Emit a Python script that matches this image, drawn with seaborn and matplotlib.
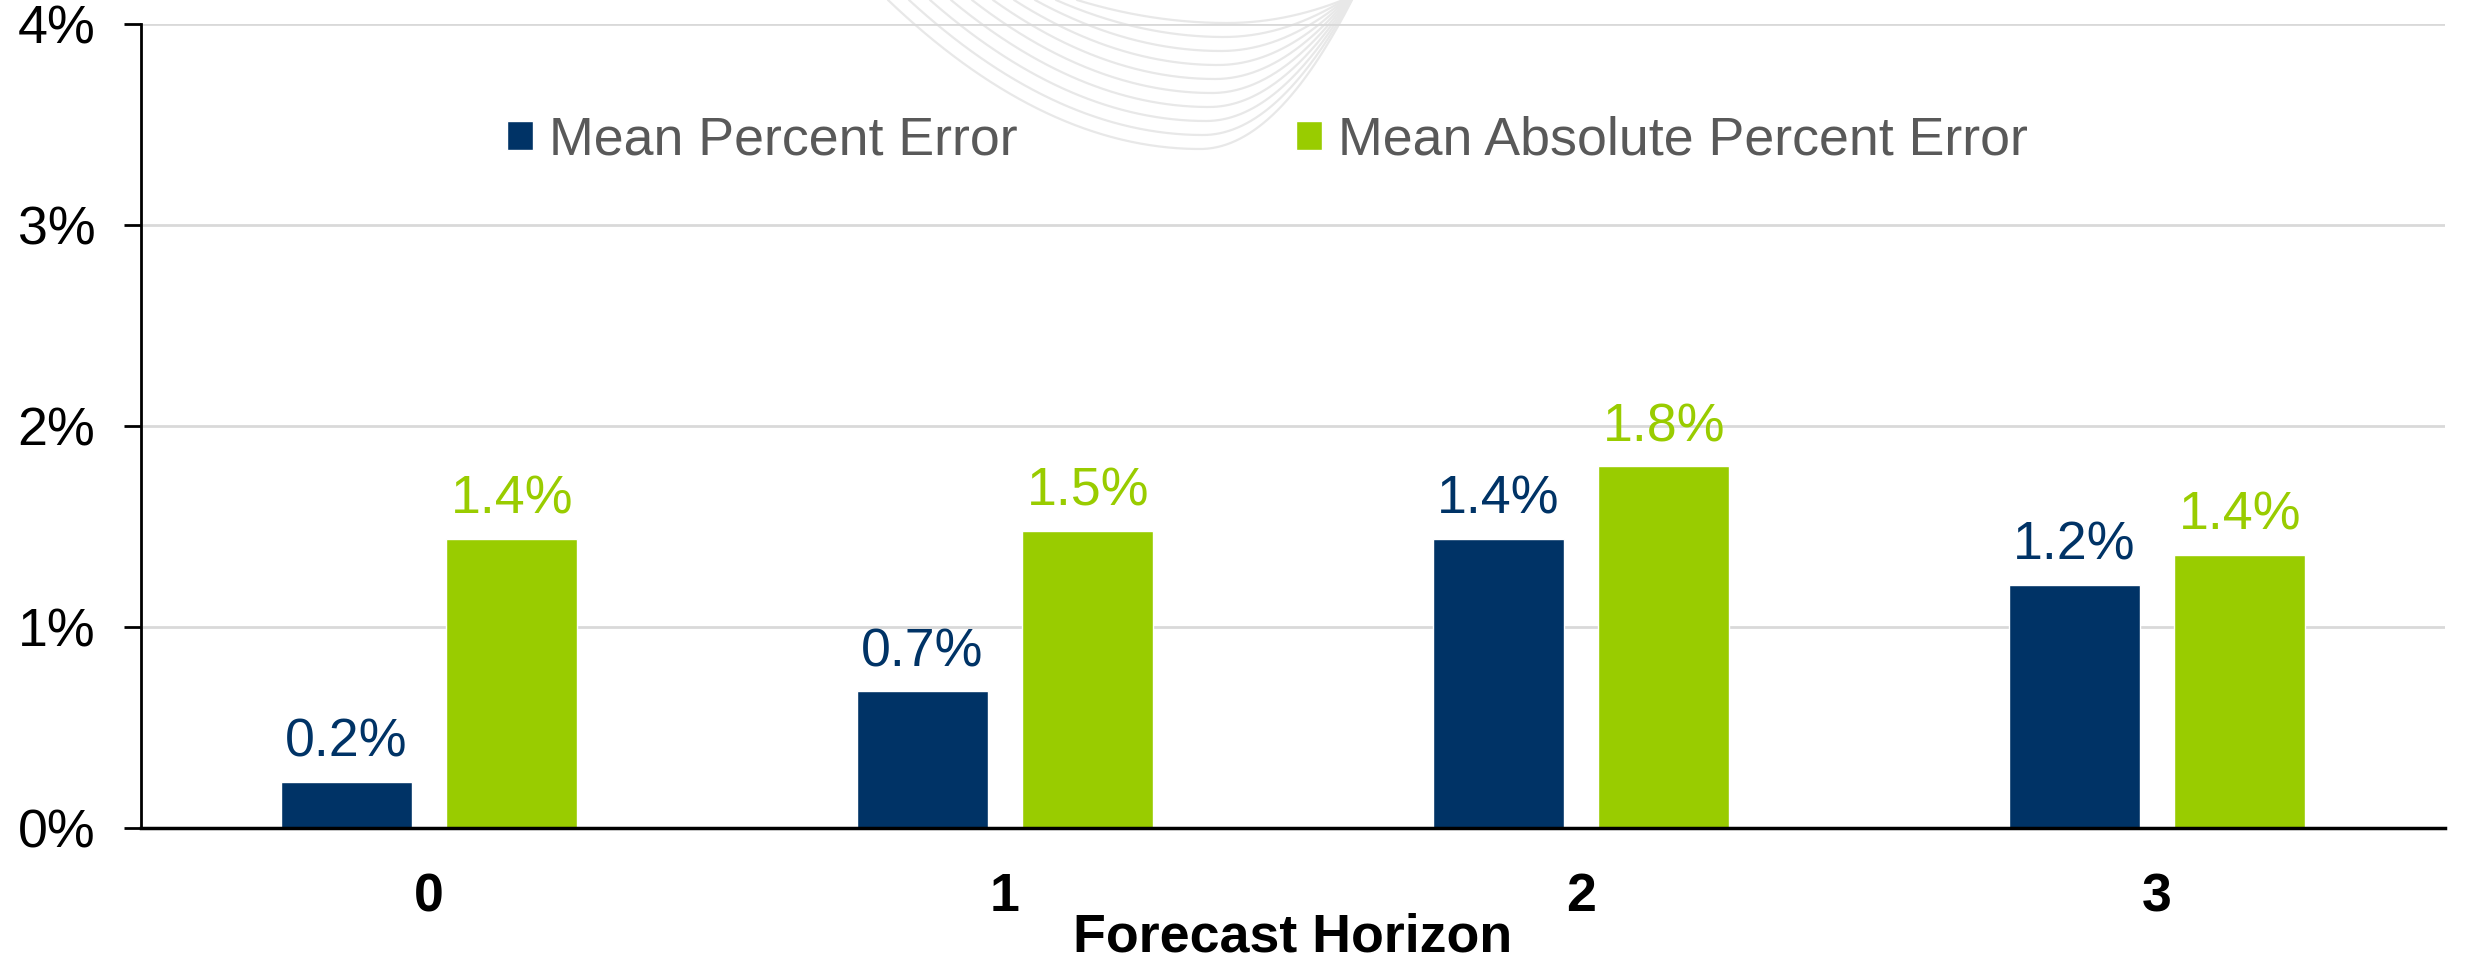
import numpy as np
import pandas as pd
import matplotlib
matplotlib.use('Agg')
import matplotlib.pyplot as plt
import seaborn as sns
from matplotlib.ticker import FuncFormatter

# --- data ---
horizons = ['0', '1', '2', '3']
series_names = ['Mean Percent Error', 'Mean Absolute Percent Error']
mpe = [0.23, 0.68, 1.44, 1.21]
mape = [1.44, 1.48, 1.80, 1.36]
y_ticks = [0, 1, 2, 3, 4]
colors = ['#003366', '#99CC00']

df = pd.DataFrame({
    'horizon': horizons * 2,
    'series': [series_names[0]] * len(mpe) + [series_names[1]] * len(mape),
    'value': mpe + mape,
})

sns.set_style('white')
plt.rcParams['font.family'] = ['Liberation Sans', 'DejaVu Sans']
FS = 38.7

W, H = 2465, 963
fig = plt.figure(figsize=(W / 100, H / 100), dpi=100)

# faint logo watermark behind the chart
bg = fig.add_axes([0, 0, 1, 1], zorder=-1)
bg.set_xlim(0, W)
bg.set_ylim(H, 0)
bg.axis('off')
for k in range(10):
    depth = 149 - 14 * k
    xc = 1200 + 3 * k
    rx_l = 312 - 18 * k
    rx_r = 152 - 4 * k
    xs = np.linspace(xc - rx_l, xc + rx_r, 200)
    t = np.where(xs < xc, (xs - xc) / rx_l, (xs - xc) / rx_r)
    bg.plot(xs, depth * (1 - t ** 2), color='#E8E8E8', lw=1.6)

ax = fig.add_axes([141 / W, 1 - 828 / H, (2445 - 141) / W, (828 - 24) / H])
ax.patch.set_alpha(0)

sns.barplot(data=df, x='horizon', y='value', hue='series', palette=colors,
            width=0.576, gap=0.21, saturation=1, errorbar=None, ax=ax)

for cont, c in zip(ax.containers, colors):
    ax.bar_label(cont, labels=[f'{v:.1f}%' for v in cont.datavalues],
                 padding=10, color=c, fontsize=FS)

ax.set_ylim(0, 4)
ax.set_yticks(y_ticks)
ax.yaxis.set_major_formatter(FuncFormatter(lambda v, p: f'{int(v)}%'))
ax.yaxis.grid(True, color='#D9D9D9', lw=2)
ax.set_axisbelow(True)

ax.set_xlim(-0.5, 3.5)
ax.set_xticks(np.arange(-0.5, 4, 1), minor=True)
ax.tick_params(axis='x', which='major', length=0, pad=32, labelsize=FS, labelcolor='black')
ax.tick_params(axis='x', which='minor', length=13, width=1.5, color='black', direction='out')
ax.tick_params(axis='y', length=12, width=2, pad=21, labelsize=FS, color='black',
               labelcolor='black', left=True)
for lab in ax.get_xticklabels():
    lab.set_fontweight('bold')

sns.despine(ax=ax)
ax.spines['left'].set_color('black')
ax.spines['left'].set_linewidth(2)
ax.spines['bottom'].set_color('black')
ax.spines['bottom'].set_linewidth(2.5)

ax.set_xlabel('Forecast Horizon', fontsize=FS, fontweight='bold', labelpad=-7, color='black')
ax.set_ylabel('')

handles, labels = ax.get_legend_handles_labels()
ax.legend(handles, labels, ncol=2, loc='center left', bbox_to_anchor=(0.159, 0.855),
          frameon=False, fontsize=FS, handlelength=0.48, handleheight=0.48,
          handletextpad=0.3, columnspacing=5.18, borderpad=0, borderaxespad=0,
          labelcolor='#595959')

fig.savefig('out.png', dpi=100)
